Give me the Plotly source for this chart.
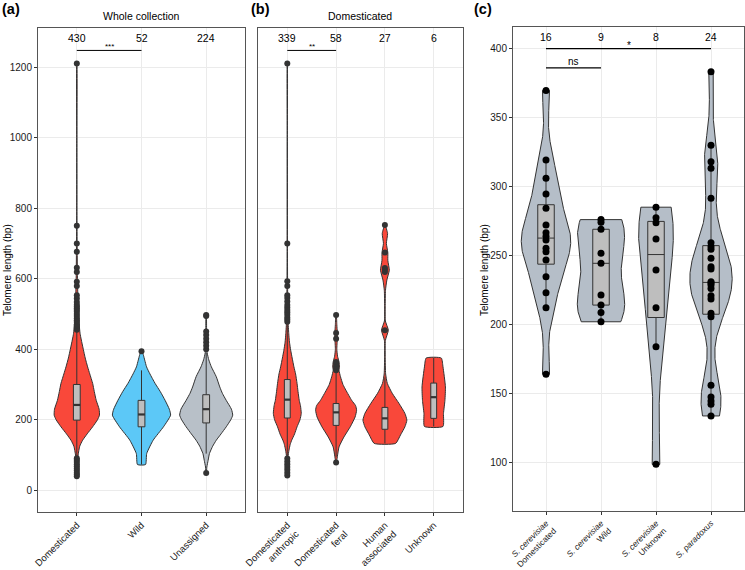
import numpy as np
import plotly.graph_objects as go

# ---------------- Panel (a): Whole collection ----------------
a_categories = ["Domesticated", "Wild", "Unassigned"]
a_counts = [430, 52, 224]
a_colors = ["#F9483A", "#5CC8F7", "#B8C0C8"]

# violin outlines: telomere length levels and half-widths (category units)
a_dom_len = [40, 70, 100, 125, 142, 160, 180, 200, 213, 230, 255, 280, 303, 330, 350, 375, 400, 445, 500, 600, 700, 800, 1000, 1210]
a_dom_w = [0.004, 0.008, 0.02, 0.045, 0.09, 0.16, 0.245, 0.32, 0.35, 0.345, 0.30, 0.27, 0.245, 0.2, 0.167, 0.13, 0.10, 0.05, 0.025, 0.01, 0.005, 0.002, 0.002, 0.001]
a_wild_len = [73, 104, 142, 180, 213, 230, 255, 280, 303, 330, 350, 369, 383, 394]
a_wild_w = [0.0625, 0.08, 0.18, 0.34, 0.45, 0.43, 0.365, 0.29, 0.21, 0.13, 0.078, 0.05, 0.03, 0.008]
a_una_len = [49, 66, 85, 104, 125, 142, 160, 180, 200, 213, 230, 255, 275, 293, 322, 350, 370, 390, 420, 496]
a_una_w = [0.003, 0.01, 0.03, 0.05, 0.1, 0.156, 0.23, 0.31, 0.38, 0.41, 0.39, 0.31, 0.25, 0.21, 0.156, 0.08, 0.04, 0.015, 0.006, 0.002]

a_q1 = [199, 180, 191]
a_med = [242, 215, 230]
a_q3 = [300, 255, 271]
a_lo = [95, 73, 104]
a_hi = [450, 340, 390]

a_dom_out = [40, 45, 50, 56, 62, 68, 74, 80, 86, 91, 455, 460, 466, 471, 477, 482, 488, 494, 500, 506, 511, 516, 521, 526, 534, 544, 553, 579, 591, 619, 631, 676, 700, 750, 1210]
a_wild_out = [394]
a_una_out = [49, 400, 410, 420, 430, 440, 450, 494, 497]

# ---------------- Panel (b): Domesticated ----------------
b_categories = ["Domesticated<br>anthropic", "Domesticated<br>feral", "Human<br>associated", "Unknown"]
b_counts = [339, 58, 27, 6]
b_color = "#F9483A"

b_ant_len = [42, 70, 95, 114, 130, 142, 160, 180, 200, 218, 240, 255, 280, 303, 330, 350, 375, 397, 420, 445, 480, 550, 700, 1000, 1210]
b_ant_w = [0.003, 0.008, 0.015, 0.035, 0.06, 0.09, 0.15, 0.2, 0.26, 0.286, 0.27, 0.245, 0.22, 0.2, 0.17, 0.136, 0.1, 0.07, 0.045, 0.03, 0.015, 0.008, 0.003, 0.002, 0.001]
b_fer_len = [79, 95, 123, 151, 180, 208, 227, 240, 255, 284, 300, 322, 340, 350, 364, 380, 400, 430, 446, 470, 497]
b_fer_w = [0.004, 0.025, 0.06, 0.16, 0.29, 0.39, 0.42, 0.4, 0.32, 0.2, 0.14, 0.09, 0.06, 0.07, 0.06, 0.03, 0.015, 0.025, 0.025, 0.015, 0.004]
b_hum_len = [133, 157, 180, 199, 218, 246, 275, 303, 330, 380, 425, 454, 480, 520, 567, 596, 624, 652, 674, 700, 728, 752]
b_hum_w = [0.22, 0.32, 0.41, 0.45, 0.41, 0.29, 0.15, 0.05, 0.015, 0.006, 0.01, 0.07, 0.01, 0.006, 0.012, 0.04, 0.09, 0.06, 0.06, 0.03, 0.055, 0.004]
b_unk_len = [181, 218, 255, 293, 350, 375]
b_unk_w = [0.19, 0.2, 0.23, 0.24, 0.19, 0.155]

b_q1 = [205, 184, 173, 204]
b_med = [257, 221, 204, 264]
b_q3 = [314, 246, 235, 304]
b_lo = [95, 95, 133, 181]
b_hi = [470, 335, 320, 375]

b_ant_out = [42, 50, 58, 66, 74, 82, 90, 478, 484, 490, 498, 505, 511, 518, 525, 535, 545, 553, 579, 593, 700, 1210]
b_fer_out = [79, 340, 346, 352, 358, 364, 430, 446, 497]
b_hum_out = [454, 619, 625, 630, 674, 752]

# ---------------- Panel (c) ----------------
c_categories = ["<i>S. cerevisiae</i><br>Domesticated", "<i>S. cerevisiae</i><br>Wild",
                "<i>S. cerevisiae</i><br>Unknown", "<i>S. paradoxus</i>"]
c_counts = [16, 9, 8, 24]
c_color = "#B5BEC8"
c_dom = [369.6, 319.3, 306.0, 294.6, 284.2, 272.1, 266.5, 264.0, 261.2, 255.2, 252.7, 246.7, 234.6, 222.9, 212.1, 163.9]
c_wild = [276.0, 274.0, 269.0, 251.6, 244.3, 221.3, 214.0, 208.7, 201.9]
c_unk = [285.0, 277.4, 273.8, 261.9, 239.4, 212.1, 183.7, 98.5]
c_par = [383.2, 330.0, 318.0, 313.3, 291.5, 259.3, 256.4, 254.5, 247.9, 241.8, 240.2, 230.9, 230.0,
         228.5, 226.1, 220.8, 218.4, 208.0, 205.5, 155.9, 147.4, 144.5, 142.1, 133.6]

DARK = "#333333"
FONT = "Liberation Sans, Arial, sans-serif"

fig = go.Figure()


def add_outline(pos, lens, widths, color, xa, ya, smooth=True):
    lens = np.asarray(lens, float)
    w = np.asarray(widths, float)
    xs = np.concatenate([pos - w, (pos + w)[::-1], [pos - w[0]]])
    ys = np.concatenate([lens, lens[::-1], [lens[0]]])
    fig.add_trace(go.Scatter(x=xs, y=ys, mode="lines", fill="toself", fillcolor=color,
                             line=dict(color=DARK, width=1, shape="spline" if smooth else "linear",
                                       smoothing=0.5),
                             xaxis=xa, yaxis=ya, hoverinfo="skip", showlegend=False))


def add_box(pos, q1, med, q3, lo, hi, width, xa, ya, medw=2.2):
    fig.add_trace(go.Scatter(x=[pos, pos, None, pos, pos], y=[q3, hi, None, q1, lo], mode="lines",
                             line=dict(color=DARK, width=1), xaxis=xa, yaxis=ya,
                             hoverinfo="skip", showlegend=False))
    h = width / 2
    fig.add_trace(go.Scatter(x=[pos - h, pos + h, pos + h, pos - h, pos - h], y=[q1, q1, q3, q3, q1],
                             mode="lines", fill="toself", fillcolor="#BEBEBE",
                             line=dict(color=DARK, width=1), xaxis=xa, yaxis=ya,
                             hoverinfo="skip", showlegend=False))
    fig.add_trace(go.Scatter(x=[pos - h, pos + h], y=[med, med], mode="lines",
                             line=dict(color=DARK, width=medw), xaxis=xa, yaxis=ya,
                             hoverinfo="skip", showlegend=False))


def add_points(pos, vals, xa, ya, color=DARK, size=6):
    fig.add_trace(go.Scatter(x=[pos] * len(vals), y=vals, mode="markers",
                             marker=dict(color=color, size=size, line=dict(width=0)), xaxis=xa, yaxis=ya,
                             hoverinfo="skip", showlegend=False))


# Panel a
a_outlines = [(a_dom_len, a_dom_w), (a_wild_len, a_wild_w), (a_una_len, a_una_w)]
a_outliers = [a_dom_out, a_wild_out, a_una_out]
for i, (ln, wd) in enumerate(a_outlines):
    add_outline(i, ln, wd, a_colors[i], "x", "y")
for i in range(3):
    add_box(i, a_q1[i], a_med[i], a_q3[i], a_lo[i], a_hi[i], 0.105, "x", "y")
    add_points(i, a_outliers[i], "x", "y")

# Panel b
b_outlines = [(b_ant_len, b_ant_w), (b_fer_len, b_fer_w), (b_hum_len, b_hum_w), (b_unk_len, b_unk_w)]
b_outliers = [b_ant_out, b_fer_out, b_hum_out, []]
for i, (ln, wd) in enumerate(b_outlines):
    add_outline(i, ln, wd, b_color, "x2", "y2")
for i in range(4):
    add_box(i, b_q1[i], b_med[i], b_q3[i], b_lo[i], b_hi[i], 0.12, "x2", "y2")
    if b_outliers[i]:
        add_points(i, b_outliers[i], "x2", "y2")


# Panel c: density (gaussian kernel, nrd0 bandwidth, trimmed), area-scaled
def kde(vals):
    v = np.asarray(vals, float)
    sd = v.std(ddof=1)
    q75, q25 = np.percentile(v, [75, 25])
    bw = 0.9 * min(sd, (q75 - q25) / 1.34) * len(v) ** -0.2
    grid = np.linspace(v.min(), v.max(), 512)
    d = np.exp(-0.5 * ((grid[:, None] - v[None, :]) / bw) ** 2).sum(1) / (len(v) * bw * np.sqrt(2 * np.pi))
    return grid, d


def tukey(vals):
    v = np.sort(np.asarray(vals, float))
    q1, med, q3 = np.percentile(v, [25, 50, 75])
    iqr = q3 - q1
    lo = v[v >= q1 - 1.5 * iqr].min()
    hi = v[v <= q3 + 1.5 * iqr].max()
    return q1, med, q3, lo, hi


c_groups = [c_dom, c_wild, c_unk, c_par]
dens = [kde(g) for g in c_groups]
dmax = max(d.max() for _, d in dens)
for i, (grid, d) in enumerate(dens):
    add_outline(i, grid, 0.45 * d / dmax, c_color, "x3", "y3", smooth=False)
for i, g in enumerate(c_groups):
    q1, med, q3, lo, hi = tukey(g)
    add_box(i, q1, med, q3, lo, hi, 0.3, "x3", "y3", medw=1)
    add_points(i, g, "x3", "y3", color="black", size=7)

# Significance brackets
a_br_y = 1247
fig.add_trace(go.Scatter(x=[0, 1], y=[a_br_y, a_br_y], mode="lines", line=dict(color="black", width=1),
                         xaxis="x", yaxis="y", showlegend=False, hoverinfo="skip"))
fig.add_trace(go.Scatter(x=[0, 1], y=[a_br_y, a_br_y], mode="lines", line=dict(color="black", width=1),
                         xaxis="x2", yaxis="y2", showlegend=False, hoverinfo="skip"))
fig.add_trace(go.Scatter(x=[0, 3], y=[400, 400], mode="lines", line=dict(color="black", width=1.2),
                         xaxis="x3", yaxis="y3", showlegend=False, hoverinfo="skip"))
fig.add_trace(go.Scatter(x=[0, 1], y=[386, 386], mode="lines", line=dict(color="black", width=1.2),
                         xaxis="x3", yaxis="y3", showlegend=False, hoverinfo="skip"))

ann = []
for i, n in enumerate(a_counts):
    ann.append(dict(x=i, y=1282, xref="x", yref="y", text=str(n), showarrow=False,
                    font=dict(size=10.5, color="black")))
for i, n in enumerate(b_counts):
    ann.append(dict(x=i, y=1282, xref="x2", yref="y2", text=str(n), showarrow=False,
                    font=dict(size=10.5, color="black")))
for i, n in enumerate(c_counts):
    ann.append(dict(x=i, y=408.2, xref="x3", yref="y3", text=str(n), showarrow=False,
                    font=dict(size=10.5, color="black")))


def paper_text(x, y, text, size, angle=0, anchor="center"):
    return dict(x=x / 745, y=1 - y / 570, xref="paper", yref="paper", text=text, textangle=angle,
                xanchor=anchor, yanchor="middle", showarrow=False, font=dict(size=size, color="black"))


ann += [
    dict(x=0.5, y=a_br_y, xref="x", yref="y", text="***", showarrow=False, yanchor="bottom",
         yshift=-3, font=dict(size=8, color="black")),
    dict(x=0.5, y=a_br_y, xref="x2", yref="y2", text="**", showarrow=False, yanchor="bottom",
         yshift=-3, font=dict(size=8, color="black")),
    dict(x=1.5, y=400, xref="x3", yref="y3", text="*", showarrow=False, yanchor="bottom",
         yshift=-4, font=dict(size=10, color="black")),
    dict(x=0.5, y=386, xref="x3", yref="y3", text="ns", showarrow=False, yanchor="bottom",
         yshift=-1, font=dict(size=10, color="black")),
    paper_text(141, 16, "Whole collection", 10.5),
    paper_text(360, 16, "Domesticated", 10.5),
    paper_text(0, 9, "<b>(a)</b>", 14.5, anchor="left"),
    paper_text(249, 9, "<b>(b)</b>", 14.5, anchor="left"),
    paper_text(472, 9, "<b>(c)</b>", 14.5, anchor="left"),
    paper_text(8, 270, "Telomere length (bp)", 10, angle=-90),
    paper_text(485, 270, "Telomere length (bp)", 10, angle=-90),
]

ydom = [1 - 512 / 570, 1 - 28 / 570]
axis_common = dict(showline=True, mirror=True, linecolor="#555555", linewidth=1, showgrid=True,
                   gridcolor="#EBEBEB", gridwidth=1, zeroline=False, ticks="outside", ticklen=3,
                   tickcolor=DARK, automargin=False, tickfont=dict(size=10, color="#1a1a1a", family=FONT))
xfont = dict(size=9.5, color="#1a1a1a", family=FONT)
xfont_c = dict(size=8.4, color="#1a1a1a", family=FONT)

a_ticks = [0, 200, 400, 600, 800, 1000, 1200]
c_ticks = [100, 150, 200, 250, 300, 350, 400]

fig.update_layout(
    width=745, height=570, margin=dict(l=0, r=0, t=0, b=0, autoexpand=False),
    paper_bgcolor="white", plot_bgcolor="white", showlegend=False,
    font=dict(family=FONT, color="black"),
    xaxis=dict(domain=[38 / 745, 245 / 745], range=[-0.6, 2.6], tickvals=[0, 1, 2], ticktext=a_categories,
               tickangle=-45, anchor="y", **{**axis_common, "tickfont": xfont}),
    yaxis=dict(domain=ydom, range=[-61.5, 1310.6], tickvals=a_ticks, anchor="x", **axis_common),
    xaxis2=dict(domain=[258 / 745, 463 / 745], range=[-0.6, 3.6], tickvals=[0, 1, 2, 3], ticktext=b_categories,
                tickangle=-45, anchor="y2", **{**axis_common, "tickfont": xfont}),
    yaxis2=dict(domain=ydom, range=[-61.5, 1310.6], tickvals=a_ticks, anchor="x2", **{**axis_common,
                "ticks": "", "showticklabels": False}),
    xaxis3=dict(domain=[513 / 745, 744 / 745], range=[-0.6, 3.6], tickvals=[0, 1, 2, 3], ticktext=c_categories,
                tickangle=-45, anchor="y3", **{**axis_common, "tickfont": xfont_c}),
    yaxis3=dict(domain=[1 - 511 / 570, 1 - 27 / 570], range=[64.65, 415.7], tickvals=c_ticks, anchor="x3",
                **axis_common),
    annotations=ann,
)

fig.write_html("out.html", config={"displayModeBar": False},
               post_script="document.body.style.margin='0';document.body.style.overflow='hidden';")
